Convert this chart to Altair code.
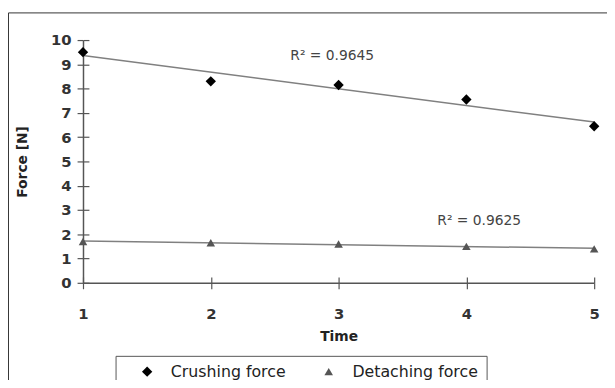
import altair as alt
import pandas as pd

# ---- data ----
times = [1, 2, 3, 4, 5]
crushing = [9.5, 8.3, 8.15, 7.55, 6.45]
detaching = [1.7, 1.65, 1.6, 1.5, 1.4]
series_names = ["Crushing force", "Detaching force"]
r2_labels = ["R² = 0.9645", "R² = 0.9625"]
r2_x = [2.95, 4.1]
r2_y = [9.35, 2.55]
y_ticks = list(range(0, 11))
x_ticks = times

df = pd.DataFrame({
    "time": times * 2,
    "force": crushing + detaching,
    "series": [series_names[0]] * len(times) + [series_names[1]] * len(times),
})
r2df = pd.DataFrame({"x": r2_x, "y": r2_y, "label": r2_labels})

FONT = "DejaVu Sans"
AX = "#555555"

xscale = alt.Scale(domain=[1, 5], nice=False, zero=False)
yscale = alt.Scale(domain=[0, 10], nice=False)

xaxis = alt.Axis(
    title="Time", values=x_ticks, format="d", grid=False,
    tickSize=6, tickColor=AX, tickWidth=1.2, domainColor=AX, domainWidth=1.5,
    labelFont=FONT, labelFontSize=15, labelFontWeight="bold", labelColor="#333333",
    labelPadding=18, labelFlush=False,
    titleFont=FONT, titleFontSize=14, titleFontWeight="bold", titleColor="#222222",
    titlePadding=8,
)
yaxis = alt.Axis(
    title="Force [N]", values=y_ticks, format="d", grid=False,
    tickSize=6, tickColor=AX, tickWidth=1.2, domainColor=AX, domainWidth=1.5,
    labelFont=FONT, labelFontSize=15, labelFontWeight="bold", labelColor="#333333",
    labelPadding=6, labelFlush=False,
    titleFont=FONT, titleFontSize=14, titleFontWeight="bold", titleColor="#222222",
    titlePadding=21,
)
inner_x = alt.Axis(orient="bottom", offset=-6, tickSize=6, tickColor=AX, tickWidth=1.2,
                   labels=False, domain=False, title=None, values=x_ticks, grid=False)
inner_y = alt.Axis(orient="left", offset=-6, tickSize=6, tickColor=AX, tickWidth=1.2,
                   labels=False, domain=False, title=None, values=y_ticks, grid=False)

legend = alt.Legend(
    orient="none", legendX=33, legendY=320, direction="horizontal", title=None,
    strokeColor="#555555", padding=8, symbolOffset=16, labelOffset=16, columnPadding=19,
    labelFont=FONT, labelFontSize=16, labelColor="#222222", symbolSize=45,
)

border = alt.Chart(pd.DataFrame({"a": [0]})).mark_rect(
    fillOpacity=0, stroke="#333333", strokeWidth=1
).encode(x=alt.value(-75.5), x2=alt.value(560), y=alt.value(-27.5), y2=alt.value(400))

trend = alt.Chart(df).transform_regression(
    "time", "force", groupby=["series"]
).mark_line(color="#808080", strokeWidth=1.5).encode(
    x=alt.X("time:Q", scale=xscale, axis=None),
    y=alt.Y("force:Q", scale=yscale, axis=None),
    detail="series:N",
)

points = alt.Chart(df).mark_point(filled=True, opacity=1, strokeWidth=0).encode(
    x=alt.X("time:Q", scale=xscale, axis=xaxis),
    y=alt.Y("force:Q", scale=yscale, axis=yaxis),
    shape=alt.Shape("series:N", scale=alt.Scale(domain=series_names, range=["diamond", "triangle-up"]), legend=legend),
    color=alt.Color("series:N", scale=alt.Scale(domain=series_names, range=["#000000", "#555555"]), legend=legend),
    size=alt.Size("series:N", scale=alt.Scale(domain=series_names, range=[110, 75]), legend=None),
)

labels = alt.Chart(r2df).mark_text(font=FONT, fontSize=14, color="#444444").encode(
    x=alt.X("x:Q", scale=xscale, axis=inner_x),
    y=alt.Y("y:Q", scale=yscale, axis=inner_y),
    text="label:N",
)

chart = alt.layer(border, trend, points, labels).resolve_scale(
    x="independent", y="independent"
).properties(
    width=518, height=246,
    autosize=alt.AutoSizeParams(type="none"),
    padding={"left": 76, "top": 30, "right": 13, "bottom": 96},
    background="white",
).configure_view(stroke=None)

chart.save("out.html", embed_options={"renderer": "svg", "actions": False})
